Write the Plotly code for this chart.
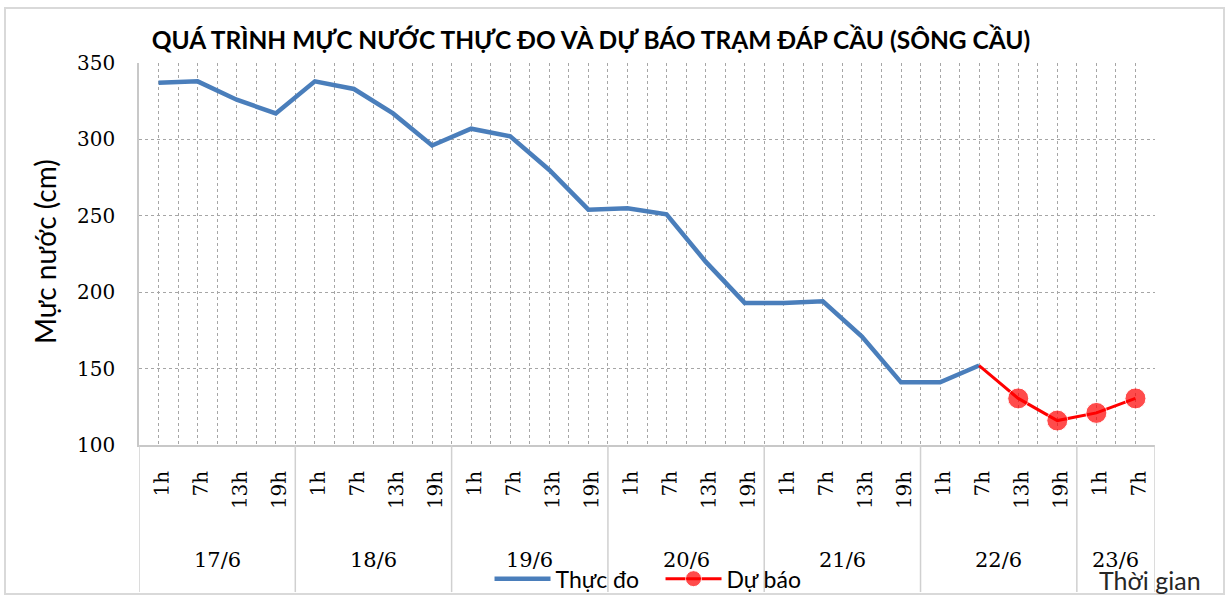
import plotly.graph_objects as go

# số liệu
days = ["17/6", "18/6", "19/6", "20/6", "21/6", "22/6", "23/6"]
hours_per_day = [4, 4, 4, 4, 4, 4, 2]
hour_labels = ["1h", "7h", "13h", "19h", "1h", "7h", "13h", "19h",
               "1h", "7h", "13h", "19h", "1h", "7h", "13h", "19h",
               "1h", "7h", "13h", "19h", "1h", "7h", "13h", "19h",
               "1h", "7h"]
thuc_do = [337, 338, 326, 317, 338, 333, 317, 296, 307, 302, 280, 254,
           255, 251, 220, 193, 193, 194, 171, 141, 141, 152]
du_bao = [None] * 21 + [152, 130.5, 116, 121, 130.5]

x = list(range(len(hour_labels)))

# vị trí ranh giới giữa các ngày
bounds = [-0.5]
for n in hours_per_day:
    bounds.append(bounds[-1] + n)
centers = [(bounds[i] + bounds[i + 1]) / 2 for i in range(len(days))]

grid = "#a6a6a6"
sep = "#d0d0d0"
sans = "Lato"
serif = "DejaVu Serif"

fig = go.Figure()
fig.add_trace(go.Scatter(x=x[:len(thuc_do)], y=thuc_do, mode="lines", name="Thực đo",
                         line=dict(color="#4a7ebb", width=4.5)))
fig.add_trace(go.Scatter(x=x, y=du_bao, mode="lines+markers", name="Dự báo",
                         line=dict(color="#ff0000", width=3),
                         marker=dict(color="#ff0000",
                                     size=[0 if (i == 21) else 21 for i in range(len(x))])))

for b in bounds:
    fig.add_shape(type="line", xref="x", yref="paper", x0=b, x1=b, y0=0, y1=-0.385,
                  line=dict(color=sep, width=1.5))

for d, c in zip(days, centers):
    fig.add_annotation(x=c, y=-0.301, xref="x", yref="paper", text=d, showarrow=False,
                       xanchor="center", yanchor="middle",
                       font=dict(family=serif, size=21, color="#000"))

fig.add_annotation(x=-0.0925, y=0.505, xref="paper", yref="paper", text="Mực nước (cm)",
                   textangle=-90, showarrow=False, xanchor="center", yanchor="middle",
                   font=dict(family=sans, size=28, color="#000"))
fig.add_annotation(x=0.995, y=-0.353, xref="paper", yref="paper", text="Thời gian",
                   showarrow=False, xanchor="center", yanchor="middle",
                   font=dict(family=sans, size=25, color="#262626"))

# khung ngoài
fig.add_shape(type="rect", xref="paper", yref="paper", x0=-0.1319, x1=1.0679, y0=-0.39, y1=1.144,
              line=dict(color="#d9d9d9", width=2))

fig.update_layout(
    width=1227, height=596,
    margin=dict(l=139, r=72, t=63, b=151, autoexpand=False),
    paper_bgcolor="white", plot_bgcolor="white",
    title=dict(text="<b>QUÁ TRÌNH MỰC NƯỚC THỰC ĐO VÀ DỰ BÁO TRẠM ĐÁP CẦU (SÔNG CẦU)</b>",
               x=0.4817, xanchor="center", y=0.933, yanchor="middle", xref="container", yref="container",
               font=dict(family=sans, size=24.5, color="#000")),
    legend=dict(orientation="h", x=0.345, xanchor="left", y=-0.35, yanchor="middle",
                font=dict(family=sans, size=23, color="#000"), bgcolor="rgba(0,0,0,0)",
                itemwidth=56, entrywidth=100),
    showlegend=True,
)
fig.update_xaxes(range=[-0.5, 25.5], tickmode="array", tickvals=x, ticktext=hour_labels,
                 tickangle=-89.9, ticks="", ticklabelstandoff=10,
                 tickfont=dict(family=serif, size=20, color="#000"),
                 showgrid=True, gridcolor=grid, gridwidth=1, griddash="dot",
                 minor=dict(tickvals=bounds[:1] + [i + 0.5 for i in x], showgrid=True,
                            gridcolor=grid, gridwidth=1, griddash="dot"),
                 showline=True, linecolor="#c8c8c8", linewidth=1.5, zeroline=False)
fig.update_yaxes(range=[100, 350], dtick=50, ticks="", ticklabelstandoff=18,
                 tickfont=dict(family=serif, size=20, color="#000"),
                 showgrid=True, gridcolor=grid, gridwidth=1, griddash="dot",
                 showline=True, linecolor="#c8c8c8", linewidth=1.5, zeroline=False)

fig.write_html("out.html", config={"displayModeBar": False},
               post_script="document.body.style.margin='0';")
